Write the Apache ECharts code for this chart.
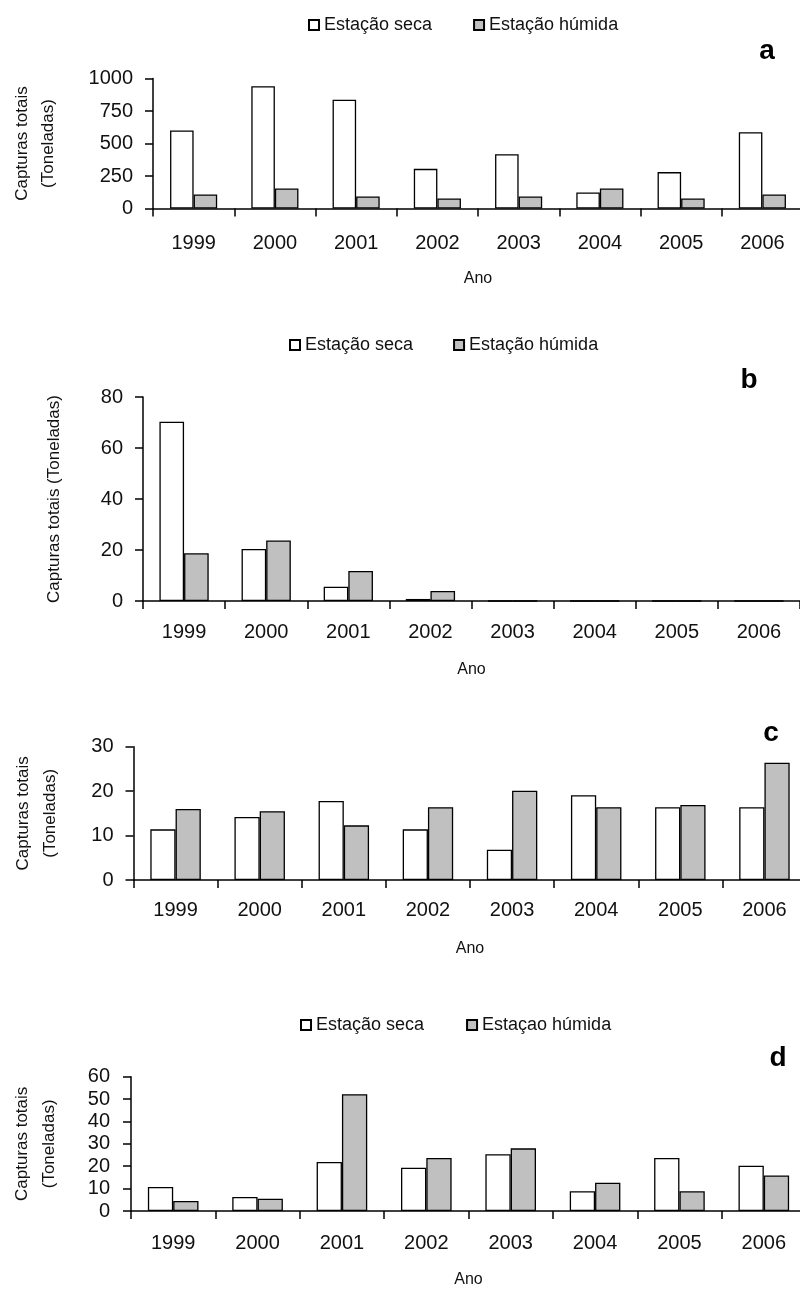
<!DOCTYPE html>
<html>
<head>
<meta charset="utf-8">
<script src="https://cdn.jsdelivr.net/npm/echarts@6/dist/echarts.min.js"></script>
<style>
html,body{margin:0;padding:0;background:#fff;overflow:hidden;}
#chart{width:812px;height:1289px;}
</style>
</head>
<body>
<div id="chart"></div>
<script>
// ---- data ----
const years = ['1999','2000','2001','2002','2003','2004','2005','2006'];

const aSeca    = [600, 941, 836, 305, 418, 123, 280, 587];
const aHumida  = [108, 154, 92, 77, 92, 154, 77, 108];

const bSeca    = [70.3, 20.4, 5.6, 0.8, 0, 0, 0, 0];
const bHumida  = [18.7, 23.7, 11.8, 3.9, 0, 0, 0, 0];

const cSeca    = [11.4, 14.2, 17.8, 11.4, 6.8, 19.1, 16.4, 16.4];
const cHumida  = [16.0, 15.5, 12.3, 16.4, 20.1, 16.4, 16.9, 26.4];

const dSeca    = [10.7, 6.3, 21.9, 19.3, 25.4, 8.8, 23.7, 20.2];
const dHumida  = [4.5, 5.5, 52.2, 23.7, 28.0, 12.6, 8.8, 15.9];

const seriesNames = ['Estação seca', 'Estação húmida'];
const seriesNamesD = ['Estação seca', 'Estaçao húmida'];
const panelLetters = ['a', 'b', 'c', 'd'];
const yLabelTwoLine = 'Capturas totais\n(Toneladas)';
const yLabelOneLine = 'Capturas totais (Toneladas)';
const xName = 'Ano';

// ---- layout / style ----
const FONT = "'Liberation Sans', Arial, sans-serif";
const grids = [
  {left: 153,   top: 78.5,  width: 650, height: 130},
  {left: 143,   top: 397,   width: 657, height: 204},
  {left: 133.5, top: 746.7, width: 673, height: 133.3},
  {left: 131,   top: 1076.7,width: 675, height: 138.6}
];
const yCfg = [
  {max: 1000, interval: 250, name: yLabelTwoLine, gap: 92, lh: 26, labelMargin: 20},
  {max: 80,   interval: 20,  name: yLabelOneLine, gap: 76, lh: 26, labelMargin: 20},
  {max: 30,   interval: 10,  name: yLabelTwoLine, gap: 70, lh: 27, labelMargin: 20},
  {max: 60,   interval: 10,  name: yLabelTwoLine, gap: 68, lh: 27, labelMargin: 21}
];
const xLabelMargin = [25, 21.5, 20.5, 22];
const xNameGap = [62, 61, 60.5, 61];
const catGap = ['42%', '40%', '40%', '40%'];
const letterPos = [[767, 51], [749, 380], [771, 733], [778, 1058]];

const axisLineStyle = {color: '#000', width: 1.5};
const whiteStyle = {color: '#ffffff', borderColor: '#000', borderWidth: 1.3};
const grayStyle  = {color: '#c0c0c0', borderColor: '#000', borderWidth: 1.3};

const xAxes = grids.map((g, i) => ({
  type: 'category', gridIndex: i, data: years,
  axisLine: {show: true, lineStyle: axisLineStyle},
  axisTick: {show: true, alignWithLabel: false, length: 8, lineStyle: axisLineStyle},
  axisLabel: {color: '#111', fontFamily: FONT, fontSize: 20, margin: xLabelMargin[i], interval: 0},
  name: xName, nameLocation: 'middle', nameGap: xNameGap[i],
  nameTextStyle: {color: '#111', fontFamily: FONT, fontSize: 16}
}));

const yAxes = grids.map((g, i) => ({
  type: 'value', gridIndex: i, min: 0, max: yCfg[i].max, interval: yCfg[i].interval,
  axisLine: {show: true, lineStyle: axisLineStyle},
  axisTick: {show: true, length: 8, lineStyle: axisLineStyle},
  splitLine: {show: false},
  axisLabel: {color: '#111', fontFamily: FONT, fontSize: 20, margin: yCfg[i].labelMargin,
              formatter: v => String(v)},
  name: yCfg[i].name, nameLocation: 'middle', nameGap: yCfg[i].gap, nameRotate: 90,
  nameTextStyle: {color: '#111', fontFamily: FONT, fontSize: 17, lineHeight: yCfg[i].lh, align: 'center'}
}));

const dataSets = [[aSeca, aHumida], [bSeca, bHumida], [cSeca, cHumida], [dSeca, dHumida]];
const series = [];
dataSets.forEach((pair, i) => {
  const names = i === 3 ? seriesNamesD : seriesNames;
  series.push({
    type: 'bar', name: names[0], xAxisIndex: i, yAxisIndex: i, data: pair[0],
    itemStyle: whiteStyle, barGap: '0%', barCategoryGap: catGap[i], silent: true
  });
  series.push({
    type: 'bar', name: names[1], xAxisIndex: i, yAxisIndex: i, data: pair[1],
    itemStyle: grayStyle, barGap: '0%', barCategoryGap: catGap[i], silent: true
  });
});

const legendBase = {
  orient: 'horizontal', itemWidth: 10, itemHeight: 10, padding: 0, icon: 'rect',
  textStyle: {color: '#111', fontFamily: FONT, fontSize: 18},
  selectedMode: false
};
const legends = [
  Object.assign({}, legendBase, {left: 308, top: 16, itemGap: 41, data: seriesNames}),
  Object.assign({}, legendBase, {left: 289, top: 336, itemGap: 40, data: seriesNames}),
  Object.assign({}, legendBase, {left: 300, top: 1016, itemGap: 42, data: seriesNamesD})
];

const graphics = panelLetters.map((t, i) => ({
  type: 'text', x: letterPos[i][0], y: letterPos[i][1],
  style: {text: t, font: "bold 28px " + FONT, fill: '#000', textAlign: 'center', textVerticalAlign: 'middle'}
}));

const chart = echarts.init(document.getElementById('chart'), null, {renderer: 'canvas'});
chart.setOption({
  animation: false,
  backgroundColor: '#fff',
  grid: grids,
  xAxis: xAxes,
  yAxis: yAxes,
  legend: legends,
  series: series,
  graphic: graphics
});
</script>
</body>
</html>
